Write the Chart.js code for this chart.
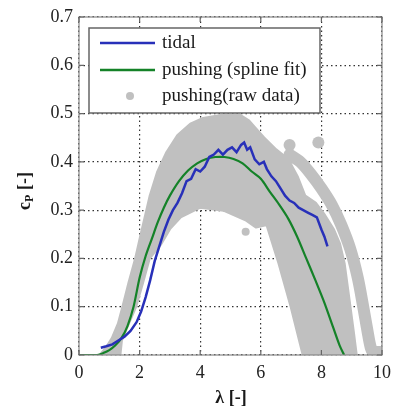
<!DOCTYPE html>
<html>
<head>
<meta charset="utf-8">
<script src="https://cdn.jsdelivr.net/npm/chart.js@4.4.1/dist/chart.umd.min.js"></script>
<style>
  html, body { margin: 0; padding: 0; background: #fff; }
  #wrap { width: 398px; height: 409px; }
</style>
</head>
<body>
<div id="wrap"><canvas id="cpChart"></canvas></div>
<script>
"use strict";

// Tick labels
const lambdaTicks = [0, 2, 4, 6, 8, 10];
const cpTicks = [0, 0.1, 0.2, 0.3, 0.4, 0.5, 0.6, 0.7];

// tidal
const lambdaTidal = [0.72, 0.9, 1.1, 1.3, 1.5, 1.7, 1.9, 2.05, 2.2, 2.35, 2.5, 2.65, 2.8, 2.95, 3.1, 3.25, 3.4, 3.55, 3.7, 3.85, 4.0, 4.15, 4.3, 4.45, 4.6, 4.75, 4.9, 5.05, 5.2, 5.35, 5.45, 5.55, 5.65, 5.8, 5.95, 6.1, 6.2, 6.35, 6.5, 6.65, 6.8, 6.95, 7.1, 7.25, 7.4, 7.55, 7.7, 7.85, 8.0, 8.1, 8.2];
const cpTidal = [0.015, 0.018, 0.022, 0.03, 0.038, 0.05, 0.068, 0.09, 0.12, 0.155, 0.195, 0.225, 0.255, 0.28, 0.3, 0.315, 0.335, 0.36, 0.365, 0.385, 0.38, 0.39, 0.41, 0.415, 0.425, 0.415, 0.425, 0.43, 0.42, 0.435, 0.44, 0.425, 0.43, 0.405, 0.395, 0.4, 0.385, 0.37, 0.36, 0.345, 0.33, 0.32, 0.315, 0.305, 0.3, 0.295, 0.29, 0.285, 0.26, 0.245, 0.225];

// pushing (spline fit)
const lambdaSpline = [0, 0.3, 0.6, 0.8, 1.0, 1.2, 1.4, 1.6, 1.8, 2.0, 2.2, 2.4, 2.6, 2.8, 3.0, 3.3, 3.6, 3.9, 4.2, 4.5, 4.8, 5.1, 5.4, 5.7, 6.0, 6.3, 6.6, 6.9, 7.2, 7.5, 7.8, 8.1, 8.4, 8.6, 8.75];
const cpSpline = [0, 0, 0, 0.004, 0.01, 0.02, 0.035, 0.06, 0.1, 0.16, 0.205, 0.24, 0.275, 0.305, 0.33, 0.36, 0.382, 0.397, 0.406, 0.41, 0.41, 0.406, 0.397, 0.38, 0.365, 0.338, 0.312, 0.283, 0.245, 0.2, 0.155, 0.108, 0.055, 0.02, 0];

// pushing (raw data): outline of the dense point cloud
const lambdaRawCloud = [0.7, 0.9, 1.1, 1.3, 1.45, 1.65, 1.87, 2.05, 2.2, 2.35, 2.6, 2.9, 3.26, 3.68, 4.1, 4.77, 5.3, 5.6, 5.84, 6.1, 6.5, 6.9, 7.2, 7.45, 7.8, 8.1, 8.4, 8.6, 8.75, 8.9, 9.05, 9.15, 7.4, 7.0, 6.6, 6.2, 5.84, 5.5, 4.77, 4.0, 3.35, 3.0, 2.7, 2.32, 2.1, 1.87, 1.6, 1.4, 1.35, 0.7];
const cpRawCloud = [0.0, 0.015, 0.035, 0.065, 0.1, 0.15, 0.2, 0.25, 0.29, 0.33, 0.38, 0.42, 0.455, 0.478, 0.49, 0.497, 0.497, 0.485, 0.468, 0.45, 0.425, 0.405, 0.37, 0.33, 0.315, 0.29, 0.26, 0.23, 0.19, 0.12, 0.05, 0.0, 0.0, 0.1, 0.19, 0.27, 0.265, 0.28, 0.3, 0.306, 0.286, 0.262, 0.23, 0.2, 0.15, 0.1, 0.06, 0.03, 0.0, 0.0];
// outer run of raw points
const lambdaRawBand = [6.95, 7.3, 7.65, 8.0, 8.35, 8.65, 8.95, 9.2, 9.38, 9.52, 9.63, 9.72, 9.85, 9.95];
const cpRawBand = [0.415, 0.4, 0.375, 0.345, 0.31, 0.27, 0.22, 0.16, 0.1, 0.05, 0.015, 0.006, 0.006, 0.006];
// isolated points
const lambdaRawSpots = [6.95, 7.9, 5.5];
const cpRawSpots = [0.435, 0.44, 0.255];
const rawSpotSize = [6, 6, 4];

const toPoints = (xs, ys) => xs.map((x, i) => ({ x: x, y: ys[i] }));

const blue = "rgb(40, 48, 185)";
const green = "rgb(20, 130, 40)";
const grey = "rgb(192, 192, 192)";
const serif = "'Liberation Serif', 'Times New Roman', serif";

// Legend inside the plot, drawn with a box like the original
const legendBox = {
  id: "legendBox",
  afterDraw(chart) {
    const ctx = chart.ctx;
    ctx.save();
    ctx.fillStyle = "#fff";
    ctx.strokeStyle = "#666";
    ctx.lineWidth = 1.5;
    ctx.fillRect(89, 28, 231, 85);
    ctx.strokeRect(89, 28, 231, 85);

    const rows = [43, 70, 96];
    const sets = chart.data.datasets;
    ctx.lineWidth = 2.5;
    ctx.strokeStyle = sets[0].borderColor;
    ctx.beginPath(); ctx.moveTo(100, rows[0]); ctx.lineTo(155, rows[0]); ctx.stroke();
    ctx.strokeStyle = sets[1].borderColor;
    ctx.beginPath(); ctx.moveTo(100, rows[1]); ctx.lineTo(155, rows[1]); ctx.stroke();
    ctx.fillStyle = grey;
    ctx.beginPath(); ctx.arc(130, rows[2], 4, 0, Math.PI * 2); ctx.fill();

    ctx.fillStyle = "#1a1a1a";
    ctx.font = "19px " + serif;
    ctx.textBaseline = "middle";
    ctx.fillText(sets[0].label, 162, rows[0]);
    ctx.fillText(sets[1].label, 162, rows[1]);
    ctx.fillText(sets[2].label, 162, rows[2]);

    // axis titles
    ctx.font = "bold 18px " + serif;
    ctx.textAlign = "center";
    ctx.fillText("\u03bb [-]", 231, 398);

    ctx.translate(25, 191);
    ctx.rotate(-Math.PI / 2);
    ctx.textAlign = "left";
    const wC = ctx.measureText("c").width;
    ctx.font = "bold 12px " + serif;
    const wP = ctx.measureText("P").width;
    ctx.font = "bold 18px " + serif;
    const wRest = ctx.measureText(" [-]").width;
    const x0 = -(wC + wP + wRest) / 2;
    ctx.fillText("c", x0, 0);
    ctx.font = "bold 12px " + serif;
    ctx.fillText("P", x0 + wC, 5);
    ctx.font = "bold 18px " + serif;
    ctx.fillText(" [-]", x0 + wC + wP, 0);
    ctx.restore();
  },
};

// Box and inward ticks (MATLAB style)
const axesBox = {
  id: "axesBox",
  afterDatasetsDraw(chart) {
    const { ctx, chartArea: a, scales } = chart;
    ctx.save();
    ctx.strokeStyle = "#888";
    ctx.lineWidth = 1.2;
    ctx.strokeRect(a.left, a.top, a.right - a.left, a.bottom - a.top);
    ctx.strokeStyle = "#666";
    ctx.beginPath();
    lambdaTicks.forEach((v) => {
      const px = scales.x.getPixelForValue(v);
      ctx.moveTo(px, a.bottom); ctx.lineTo(px, a.bottom - 5);
      ctx.moveTo(px, a.top); ctx.lineTo(px, a.top + 5);
    });
    cpTicks.forEach((v) => {
      const py = scales.y.getPixelForValue(v);
      ctx.moveTo(a.left, py); ctx.lineTo(a.left + 5, py);
      ctx.moveTo(a.right, py); ctx.lineTo(a.right - 5, py);
    });
    ctx.stroke();
    ctx.restore();
  },
};

const gridStyle = {
  color: "#333",
  lineWidth: 1.2,
  drawTicks: false,
};

new Chart(document.getElementById("cpChart"), {
  type: "scatter",
  data: {
    datasets: [
      {
        label: "tidal",
        data: toPoints(lambdaTidal, cpTidal),
        showLine: true,
        borderColor: blue,
        borderWidth: 2.5,
        pointRadius: 0,
        order: 0,
      },
      {
        label: "pushing (spline fit)",
        data: toPoints(lambdaSpline, cpSpline),
        showLine: true,
        borderColor: green,
        borderWidth: 2.2,
        tension: 0.3,
        pointRadius: 0,
        order: 1,
      },
      {
        label: "pushing(raw data)",
        data: toPoints(lambdaRawCloud, cpRawCloud),
        showLine: true,
        fill: "shape",
        backgroundColor: grey,
        borderColor: grey,
        borderWidth: 3,
        borderJoinStyle: "round",
        pointRadius: 0,
        order: 2,
      },
      {
        label: "pushing(raw data)",
        data: toPoints(lambdaRawBand, cpRawBand),
        showLine: true,
        borderColor: grey,
        borderWidth: 12,
        borderCapStyle: "round",
        borderJoinStyle: "round",
        tension: 0.3,
        pointRadius: 0,
        order: 3,
      },
      {
        label: "pushing(raw data)",
        data: toPoints(lambdaRawSpots, cpRawSpots),
        backgroundColor: grey,
        borderWidth: 0,
        pointRadius: rawSpotSize,
        order: 4,
      },
    ],
  },
  options: {
    responsive: true,
    maintainAspectRatio: false,
    animation: false,
    layout: { padding: { top: 17, right: 9, left: 0, bottom: 0 } },
    plugins: {
      legend: { display: false },
      tooltip: { enabled: false },
    },
    scales: {
      x: {
        type: "linear",
        min: 0,
        max: 10,
        afterFit: (scale) => { scale.height = 54; },
        afterBuildTicks: (scale) => { scale.ticks = lambdaTicks.map((v) => ({ value: v })); },
        grid: gridStyle,
        border: { display: false, dash: [1.5, 3] },
        ticks: { color: "#222", padding: 7, font: { family: serif, size: 18 } },
      },
      y: {
        type: "linear",
        min: 0,
        max: 0.7,
        afterFit: (scale) => { scale.width = 79; },
        afterBuildTicks: (scale) => { scale.ticks = cpTicks.map((v) => ({ value: v })); },
        grid: gridStyle,
        border: { display: false, dash: [1.5, 3] },
        ticks: { color: "#222", padding: 6, font: { family: serif, size: 18 } },
      },
    },
  },
  plugins: [axesBox, legendBox],
});
</script>
</body>
</html>
